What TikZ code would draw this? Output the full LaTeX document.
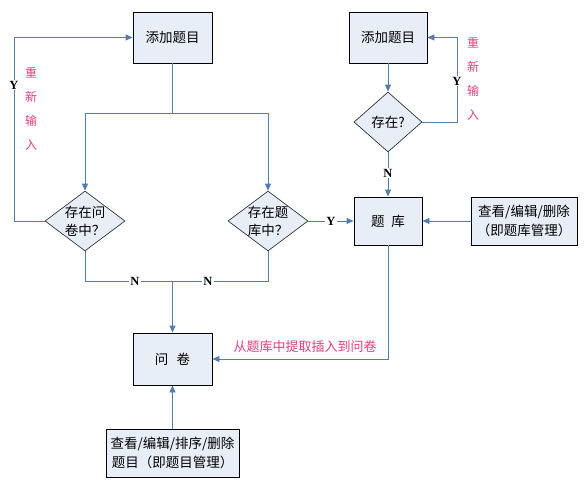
\documentclass[tikz,border=0pt]{standalone}
\usepackage{fontspec}
\setmainfont{Liberation Serif}
\newfontfamily\cjk{Noto Sans CJK SC}
\usetikzlibrary{shapes.geometric,arrows.meta}
\definecolor{boxfill}{HTML}{E8EEF7}
\definecolor{lineblue}{HTML}{4F7DB8}
\definecolor{pinkred}{HTML}{EE3C7C}
\tikzset{
  box/.style={draw=black,line width=0.9pt,fill=boxfill,inner sep=0pt,align=center,font=\cjk\fontsize{13.5}{18.5}\selectfont},
  dia/.style={diamond,draw=black!80,line width=0.7pt,fill=boxfill,inner sep=0pt},
  diatext/.style={align=center,font=\cjk\fontsize{13.5}{18}\selectfont},
  conn/.style={draw=lineblue,line width=0.9pt},
  arr/.style={conn,-{Triangle[width=6pt,length=7pt]}},
  yn/.style={fill=white,inner sep=1pt,font=\bfseries\fontsize{12.5}{13}\selectfont},
  redtxt/.style={text=pinkred,font=\cjk\fontsize{13}{15}\selectfont},
  redcol/.style={text=pinkred,align=center,font=\cjk\fontsize{12}{24}\selectfont}
}
\begin{document}
\begin{tikzpicture}[x=1pt,y=-1pt]
\useasboundingbox (0,0) rectangle (585,486);
% nodes
\node[box,minimum width=79pt,minimum height=51pt] (a1) at (172.5,37.5) {添加题目};
\node[dia,minimum width=80pt,minimum height=60pt] (d1) at (85,221) {};
\node[diatext] (t1) at (d1) {存在问\\卷中？};
\node[dia,minimum width=80pt,minimum height=60pt] (d2) at (268,221) {};
\node[diatext] (t2) at (d2) {存在题\\库中？};
\node[box,minimum width=78pt,minimum height=51pt] (a2) at (388,37.5) {添加题目};
\node[dia,minimum width=68pt,minimum height=60pt] (d3) at (388,122) {};
\node[diatext] (t3) at (d3) {存在?};
\node[box,minimum width=68pt,minimum height=48pt] (tk) at (388,221) {题\hspace{0.5em}库};
\node[box,minimum width=106pt,minimum height=48pt] (rb) at (524,221) {查看/编辑/删除\\（即题库管理）};
\node[box,minimum width=79pt,minimum height=52pt] (q) at (172.5,359) {问\hspace{0.6em}卷};
\node[box,minimum width=133pt,minimum height=48pt] (bb) at (172.5,453) {查看/编辑/排序/删除\\题目（即题目管理）};
% coordinates
\coordinate (split) at (172.5,113);
\coordinate (join) at (172.5,281);
\coordinate (lback) at (14,221);
\coordinate (rback) at (457,122);
\coordinate (tkdown) at (388,359);
% connectors
\draw[conn] (a1.south) -- (split);
\draw[arr] (split) -| (d1.north);
\draw[arr] (split) -| (d2.north);
\draw[arr] (d1.west) -- (lback) |- (a1.west);
\draw[conn] (d1.south) |- (join);
\draw[conn] (d2.south) |- (join);
\draw[arr] (join) -- (q.north);
\draw[arr] (d2.east) -- (tk.west);
\draw[arr] (a2.south) -- (d3.north);
\draw[arr] (d3.east) -- (rback) |- (a2.east);
\draw[arr] (d3.south) -- (tk.north);
\draw[arr] (rb.west) -- (tk.east);
\draw[arr] (tk.south) -- (tkdown) -- (q.east);
\draw[arr] (bb.north) -- (q.south);
% Y/N labels
\node[yn] (y1) at (14,85) {Y};
\node[yn] (n1) at (135,281) {N};
\node[yn] (n2) at (208,281) {N};
\node[yn] (y2) at (331,221) {Y};
\node[yn] (y3) at (457,81) {Y};
\node[yn] (n3) at (388,173) {N};
% red labels
\node[redcol] (r1) at (31,109) {重\\新\\输\\入};
\node[redcol] (r2) at (473,79) {重\\新\\输\\入};
\node[redtxt] (r3) at (305,347) {从题库中提取插入到问卷};
\end{tikzpicture}
\end{document}
